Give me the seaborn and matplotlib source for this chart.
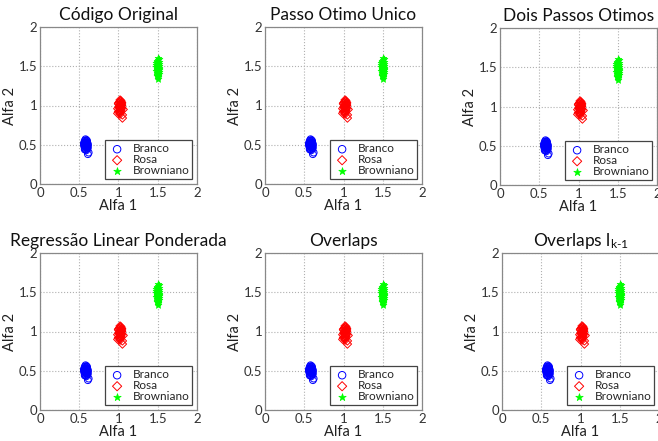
import matplotlib
matplotlib.use("Agg")
import matplotlib.pyplot as plt
import seaborn as sns

sns.set_style("white")
plt.rcParams['font.family'] = ['Lato', 'DejaVu Sans']
plt.rcParams['mathtext.fontset'] = 'custom'
plt.rcParams['mathtext.rm'] = 'Lato'
plt.rcParams['mathtext.it'] = 'Lato'

titles = ["Código Original", "Passo Otimo Unico", "Dois Passos Otimos",
          "Regressão Linear Ponderada", "Overlaps", r"Overlaps l$_{\text{k-1}}$"]
series_names = ["Branco", "Rosa", "Browniano"]
tick_vals = [0, 0.5, 1, 1.5, 2]
tick_labels = ["0", "0.5", "1", "1.5", "2"]

blue_x = [0.56,0.57,0.58,0.59,0.60,0.61,0.57,0.58,0.59,0.60,0.56,0.58,0.59,0.61,0.57,
          0.60,0.58,0.59,0.57,0.60,0.58,0.59,0.61,0.56,0.58,0.60,0.62,0.61,0.59,0.57]
blue_y = [0.52,0.55,0.50,0.47,0.53,0.49,0.46,0.44,0.51,0.45,0.49,0.53,0.56,0.51,0.50,
          0.48,0.47,0.54,0.44,0.52,0.57,0.43,0.46,0.51,0.49,0.55,0.40,0.38,0.48,0.53]
red_x = [1.00,1.01,1.02,1.03,1.04,1.01,1.02,1.03,0.99,1.00,1.02,1.04,1.05,1.01,1.03,
         1.02,1.00,1.04,1.03,1.02,1.01,1.06,1.05,0.99,1.02,1.03,1.04,1.01,1.02,1.03]
red_y = [1.02,0.98,1.05,0.95,1.00,0.93,1.07,0.97,0.96,1.03,0.91,1.04,0.88,0.99,1.01,
         0.94,0.92,0.97,1.06,1.00,1.04,0.95,0.84,0.90,0.98,0.93,1.02,0.97,0.89,1.03]
green_x = [1.48,1.49,1.50,1.51,1.52,1.49,1.50,1.51,1.48,1.50,1.49,1.51,1.50,1.52,1.48,
           1.49,1.50,1.51,1.50,1.49,1.51,1.50,1.48,1.52,1.49,1.50,1.51,1.50,1.49,1.50]
green_y = [1.52,1.45,1.58,1.40,1.48,1.55,1.36,1.50,1.44,1.60,1.38,1.53,1.42,1.47,1.49,
           1.57,1.34,1.43,1.51,1.41,1.56,1.46,1.54,1.45,1.39,1.49,1.59,1.37,1.47,1.44]

W, H = 658, 441
fig = plt.figure(figsize=(W / 100, H / 100), dpi=100)

# (left, top) in pixels for each panel
panel_pos = [(40, 27), (265, 27), (500, 28), (40, 253), (265, 253), (502, 253)]
aw, ah = 157, 157

for title, (lx, ty) in zip(titles, panel_pos):
    ax = fig.add_axes([lx / W, 1 - (ty + ah) / H, aw / W, ah / H])
    sns.scatterplot(x=blue_x, y=blue_y, ax=ax, marker='o', s=24, facecolor='none',
                    edgecolor='#0000ff', linewidth=0.7, label=series_names[0])
    sns.scatterplot(x=red_x, y=red_y, ax=ax, marker='D', s=18, facecolor='none',
                    edgecolor='#ff0000', linewidth=0.7, label=series_names[1])
    sns.scatterplot(x=green_x, y=green_y, ax=ax, marker='*', s=26, color='#00ff00',
                    edgecolor='#00ff00', linewidth=0.5, label=series_names[2])
    ax.set_xlim(0, 2)
    ax.set_ylim(0, 2)
    ax.set_xticks(tick_vals)
    ax.set_xticklabels(tick_labels)
    ax.set_yticks(tick_vals)
    ax.set_yticklabels(tick_labels)
    ax.tick_params(direction='in', length=3, labelsize=9.5, colors='#333333',
                   labelcolor='#333333', pad=2)
    ax.grid(True, linestyle=':', color='#b0b0b0', linewidth=0.8)
    for sp in ax.spines.values():
        sp.set_color('#888888')
        sp.set_linewidth(0.9)
    ax.set_xlabel("Alfa 1", fontsize=10.5, color='#222222', labelpad=0)
    ax.set_ylabel("Alfa 2", fontsize=10.5, color='#222222', labelpad=1)
    ax.set_title(title, fontsize=12.5, color='#111111', pad=5)
    leg = ax.legend(loc='lower right', fontsize=8.5, frameon=True, fancybox=False,
                    framealpha=1, edgecolor='#444444', borderpad=0.25,
                    labelspacing=0.0, handletextpad=0.5, handlelength=1.6,
                    borderaxespad=0.4, markerscale=1.1)
    leg.get_frame().set_linewidth(0.9)

fig.savefig("out.png", dpi=100)
